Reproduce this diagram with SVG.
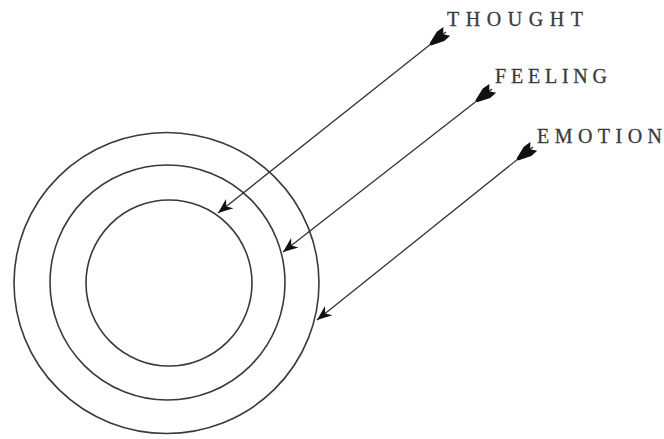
<svg xmlns="http://www.w3.org/2000/svg" width="664" height="439" viewBox="0 0 664 439">
<style>
.ring{fill:none;stroke:#3a3a3a;stroke-width:1.6}
.arr{fill:none;stroke:#333;stroke-width:1.3;marker-start:url(#fletch);marker-end:url(#head)}
.lbl{font-family:"Liberation Serif","Times New Roman",serif;font-size:20px;fill:#3a3a3a;stroke:#3a3a3a;stroke-width:0.3}
</style>
<defs>
<marker id="head" markerUnits="userSpaceOnUse" viewBox="-16 -7 18 14" refX="0" refY="0" markerWidth="18" markerHeight="14" orient="auto" overflow="visible">
<path d="M0,0 L-15,-6 L-10.5,0 L-15,6 Z" fill="#111"/>
</marker>
<marker id="fletch" markerUnits="userSpaceOnUse" viewBox="-2 -8 26 16" refX="0" refY="0" markerWidth="26" markerHeight="16" orient="auto" overflow="visible">
<path d="M-1,-5.5 L3.5,0 L-1,5.5 L7,6 L20,1.3 L20,-1.3 L7,-6 Z" fill="#111"/>
</marker>
</defs>
<g id="circles">
<ellipse id="outer" class="ring" cx="166.5" cy="283" rx="152.5" ry="150.5"/>
<circle id="middle" class="ring" cx="167.5" cy="282.5" r="117.5"/>
<circle id="inner" class="ring" cx="169" cy="283" r="83"/>
</g>
<g id="connectors">
<path class="arr" d="M446,32 L218,213"/>
<path class="arr" d="M492,89 L283,252"/>
<path class="arr" d="M533,147 L317,320"/>
</g>
<g id="labels">
<text id="thought" class="lbl" x="447" y="26" textLength="136" lengthAdjust="spacing">THOUGHT</text>
<text id="feeling" class="lbl" x="495" y="82.5" textLength="112" lengthAdjust="spacing">FEELING</text>
<text id="emotion" class="lbl" x="537" y="142.5" textLength="125" lengthAdjust="spacing">EMOTION</text>
</g>
</svg>
